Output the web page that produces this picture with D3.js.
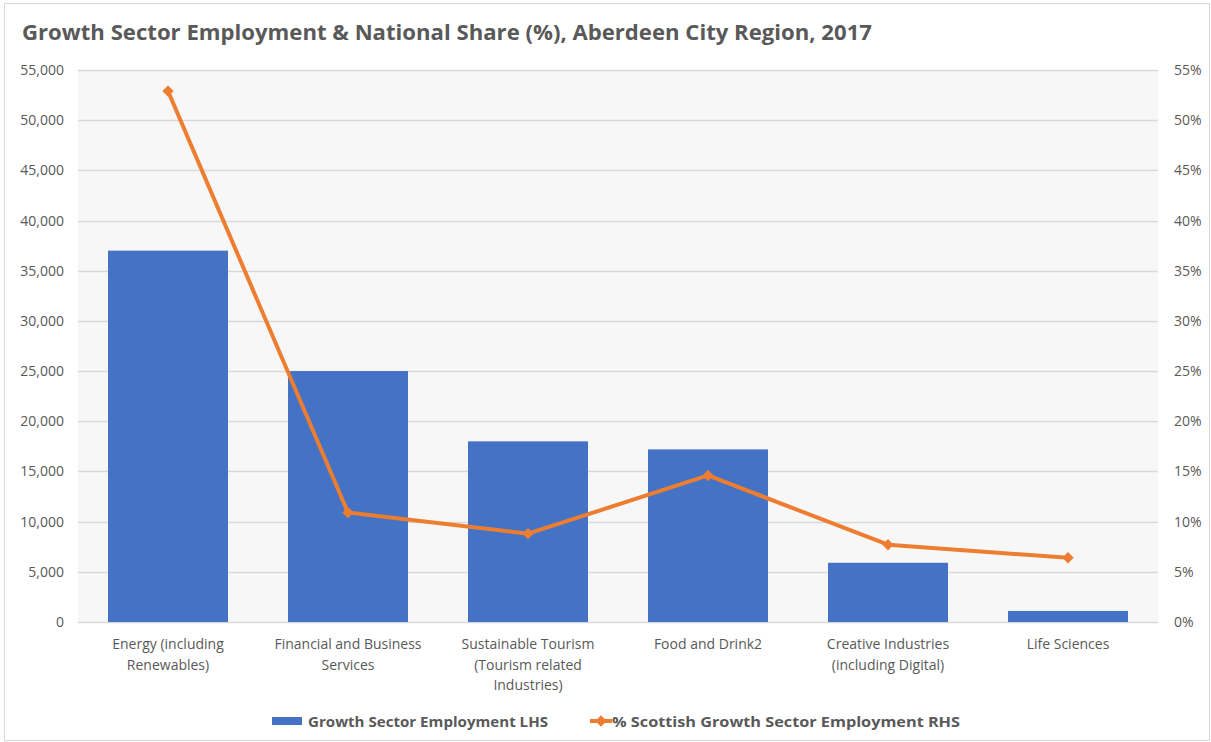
<!DOCTYPE html>
<html>
<head>
<meta charset="utf-8">
<script src="https://cdn.jsdelivr.net/npm/d3@7"></script>
<style>
  body { margin: 0; background: #fff; }
  text { font-family: "Open Sans", "Noto Sans", sans-serif; fill: #595959; }
</style>
</head>
<body>
<script>
// chart data
var categories = [
  ["Energy (including", "Renewables)"],
  ["Financial and Business", "Services"],
  ["Sustainable Tourism", "(Tourism related", "Industries)"],
  ["Food and Drink2"],
  ["Creative Industries", "(including Digital)"],
  ["Life Sciences"]
];
var employment = [37000, 25000, 18000, 17200, 5900, 1100];
var share = [52.9, 10.9, 8.8, 14.6, 7.7, 6.4];
var leftTicks = [0, 5000, 10000, 15000, 20000, 25000, 30000, 35000, 40000, 45000, 50000, 55000];
var rightTicks = [0, 5, 10, 15, 20, 25, 30, 35, 40, 45, 50, 55];
var seriesNames = ["Growth Sector Employment LHS", "% Scottish Growth Sector Employment RHS"];

var W = 1211, H = 742;
var margin = {top: 70, right: 53, bottom: 120, left: 78};
var width = W - margin.left - margin.right;
var height = H - margin.top - margin.bottom;

var svg = d3.select("body").append("svg")
    .attr("width", W)
    .attr("height", H);

// outer border
svg.append("rect")
    .attr("x", 4.5).attr("y", 3.5)
    .attr("width", W - 6).attr("height", H - 5)
    .style("fill", "#fff")
    .style("stroke", "#d9d9d9");

svg.append("text")
    .attr("x", 22).attr("y", 40)
    .attr("textLength", 850)
    .attr("lengthAdjust", "spacingAndGlyphs")
    .style("font-size", "21px")
    .style("font-weight", "bold")
    .text("Growth Sector Employment & National Share (%), Aberdeen City Region, 2017");

var g = svg.append("g")
    .attr("transform", "translate(" + margin.left + "," + margin.top + ")");

g.append("rect")
    .attr("width", width).attr("height", height)
    .style("fill", "#f7f7f7");

var xScale = d3.scaleBand()
    .domain(d3.range(categories.length))
    .range([0, width])
    .paddingInner(1 / 3)
    .paddingOuter(1 / 6);

var yLeft = d3.scaleLinear().domain([0, 55000]).range([height, 0]);
var yRight = d3.scaleLinear().domain([0, 55]).range([height, 0]);

// gridlines
g.selectAll("line.grid")
    .data(leftTicks)
    .enter().append("line")
    .attr("class", "grid")
    .attr("x1", 0).attr("x2", width)
    .attr("y1", function(d){ return Math.round(yLeft(d)) + 0.5; })
    .attr("y2", function(d){ return Math.round(yLeft(d)) + 0.5; })
    .style("stroke", "#d9d9d9")
    .style("stroke-width", 1.5);

// bars
g.selectAll("rect.bar")
    .data(employment)
    .enter().append("rect")
    .attr("class", "bar")
    .attr("x", function(d, i){ return xScale(i); })
    .attr("y", function(d){ return yLeft(d); })
    .attr("width", xScale.bandwidth())
    .attr("height", function(d){ return height - yLeft(d); })
    .style("fill", "#4472c4");

// line
var line = d3.line()
    .x(function(d, i){ return xScale(i) + xScale.bandwidth() / 2; })
    .y(function(d){ return yRight(d); });

g.append("path")
    .datum(share)
    .attr("d", line)
    .style("fill", "none")
    .style("stroke", "#ed7d31")
    .style("stroke-width", 4)
    .style("stroke-linejoin", "round");

var diamond = d3.symbol().type(d3.symbolSquare).size(64);
g.selectAll("path.pt")
    .data(share)
    .enter().append("path")
    .attr("class", "pt")
    .attr("d", diamond)
    .attr("transform", function(d, i){
        return "translate(" + (xScale(i) + xScale.bandwidth() / 2) + "," + yRight(d) + ") rotate(45)";
    })
    .style("fill", "#ed7d31");

// left axis
var lAxis = d3.axisLeft(yLeft)
    .tickValues(leftTicks)
    .tickSize(0)
    .tickPadding(14)
    .tickFormat(d3.format(","));
var lGuide = g.append("g").call(lAxis);
lGuide.select(".domain").remove();
lGuide.selectAll("text").style("font-size", "14px").style("fill", "#595959");

// right axis
var rAxis = d3.axisRight(yRight)
    .tickValues(rightTicks)
    .tickSize(0)
    .tickPadding(16)
    .tickFormat(function(d){ return d + "%"; });
var rGuide = g.append("g")
    .attr("transform", "translate(" + width + ",0)")
    .call(rAxis);
rGuide.select(".domain").remove();
rGuide.selectAll("text").style("font-size", "14px").style("fill", "#595959");

// category labels
var xl = g.append("g").attr("transform", "translate(0," + height + ")");
categories.forEach(function(lines, i){
    var t = xl.append("text")
        .attr("x", xScale(i) + xScale.bandwidth() / 2)
        .attr("y", 27)
        .attr("text-anchor", "middle")
        .style("font-size", "14px");
    lines.forEach(function(s, j){
        t.append("tspan")
            .attr("x", xScale(i) + xScale.bandwidth() / 2)
            .attr("dy", j === 0 ? 0 : 20.5)
            .text(s);
    });
});

// legend
var leg = svg.append("g").attr("transform", "translate(0,721)");
leg.append("rect")
    .attr("x", 272).attr("y", -4).attr("width", 30).attr("height", 8)
    .style("fill", "#4472c4");
leg.append("text")
    .attr("x", 308).attr("y", 5.5)
    .attr("textLength", 240)
    .attr("lengthAdjust", "spacingAndGlyphs")
    .style("font-size", "15px").style("font-weight", "bold")
    .text(seriesNames[0]);
leg.append("line")
    .attr("x1", 590).attr("x2", 612).attr("y1", 0).attr("y2", 0)
    .style("stroke", "#ed7d31").style("stroke-width", 4);
leg.append("path")
    .attr("d", diamond)
    .attr("transform", "translate(601,0) rotate(45)")
    .style("fill", "#ed7d31");
leg.append("text")
    .attr("x", 612).attr("y", 5.5)
    .attr("textLength", 348)
    .attr("lengthAdjust", "spacingAndGlyphs")
    .style("font-size", "15px").style("font-weight", "bold")
    .text(seriesNames[1]);
</script>
</body>
</html>
